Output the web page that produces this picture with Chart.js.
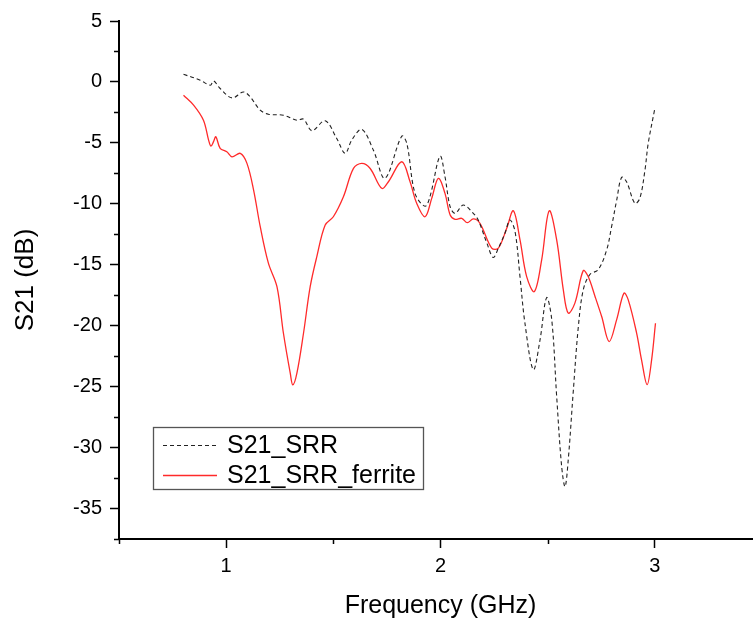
<!DOCTYPE html>
<html lang="en">
<head>
  <meta charset="UTF-8" />
  <title>S21 vs Frequency</title>
  <script src="https://cdn.jsdelivr.net/npm/chart.js"></script>
  <style>
    html, body { margin: 0; padding: 0; background: #fff; overflow: hidden; }
    #chart { display: block; }
  </style>
</head>
<body>
  <canvas id="chart" width="770" height="621"></canvas>

  <script>
    // data (GHz, dB)
    const freqSRR = [0.801, 0.879, 0.926, 0.941, 0.972, 1.027, 1.081, 1.112, 1.159, 1.197, 1.267, 1.330, 1.361, 1.400, 1.462, 1.516, 1.555, 1.586, 1.633, 1.687, 1.741, 1.819, 1.843, 1.881, 1.928, 1.951, 1.998, 2.021, 2.045, 2.068, 2.107, 2.153, 2.176, 2.216, 2.246, 2.270, 2.301, 2.324, 2.348, 2.371, 2.394, 2.433, 2.464, 2.495, 2.519, 2.542, 2.565, 2.581, 2.596, 2.619, 2.643, 2.666, 2.697, 2.736, 2.775, 2.798, 2.822, 2.845, 2.868, 2.907, 2.930, 2.954, 2.969, 3.000];
    const s21SRR = [0.63, 0.14, -0.27, 0.08, -0.54, -1.31, -0.82, -1.23, -2.32, -2.65, -2.73, -3.14, -3.05, -4.0, -3.19, -4.64, -5.86, -4.77, -3.9, -5.6, -7.9, -4.45, -5.05, -9.14, -10.2, -9.4, -6.09, -7.78, -10.24, -10.78, -10.1, -10.78, -11.33, -13.2, -14.4, -13.64, -12.4, -11.33, -12.3, -16.0, -19.8, -23.6, -21.2, -17.7, -19.5, -25.8, -31.5, -33.2, -31.0, -25.5, -20.1, -17.06, -15.8, -15.4, -13.8, -11.9, -9.7, -7.83, -8.19, -9.96, -9.55, -7.23, -5.05, -2.18];

    const freqFerrite = [0.801, 0.848, 0.894, 0.918, 0.929, 0.941, 0.952, 0.972, 1.003, 1.027, 1.066, 1.097, 1.128, 1.159, 1.197, 1.237, 1.267, 1.299, 1.311, 1.330, 1.361, 1.392, 1.423, 1.462, 1.500, 1.547, 1.594, 1.633, 1.672, 1.726, 1.757, 1.819, 1.858, 1.889, 1.928, 1.959, 1.990, 2.021, 2.045, 2.068, 2.099, 2.125, 2.153, 2.184, 2.239, 2.270, 2.309, 2.340, 2.371, 2.402, 2.438, 2.472, 2.507, 2.542, 2.573, 2.596, 2.627, 2.666, 2.689, 2.721, 2.752, 2.787, 2.822, 2.856, 2.876, 2.915, 2.938, 2.964, 2.985, 3.003];
    const s21Ferrite = [-1.09, -1.9, -3.14, -4.77, -5.27, -4.9, -4.5, -5.45, -5.73, -6.14, -5.86, -6.68, -8.87, -11.88, -14.87, -16.8, -20.6, -23.9, -24.86, -23.9, -20.6, -16.8, -14.33, -11.74, -11.06, -9.42, -7.09, -6.68, -7.1, -8.73, -8.19, -6.55, -8.19, -9.96, -11.06, -9.55, -7.91, -9.14, -10.92, -11.27, -11.19, -11.55, -11.24, -11.6, -13.64, -13.64, -12.0, -10.57, -12.96, -15.97, -17.2, -14.6, -10.57, -12.96, -17.06, -18.97, -18.15, -15.48, -15.97, -17.6, -19.25, -21.3, -19.5, -17.33, -17.88, -20.6, -22.8, -24.84, -22.8, -19.8];

    const seriesNames = ['S21_SRR', 'S21_SRR_ferrite'];
    const xLabels = [1, 2, 3];           // labelled x ticks
    const yLabelStep = 5;                // labelled y ticks every 5 dB

    const toPoints = (xs, ys) => xs.map((x, i) => ({ x: x, y: ys[i] }));
    const FONT = "'Liberation Sans', Arial, sans-serif";

    // short minor ticks (the major ones come from Chart.js itself)
    const minorTicks = {
      id: 'minorTicks',
      afterDraw(chart) {
        const ctx = chart.ctx;
        const xs = chart.scales.x, ys = chart.scales.y;
        ctx.save();
        ctx.strokeStyle = '#000';
        ctx.lineWidth = 1.5;
        ctx.beginPath();
        xs.ticks.forEach(t => {
          if (xLabels.includes(t.value)) return;
          const px = Math.round(xs.getPixelForValue(t.value)) + 0.5;
          ctx.moveTo(px, xs.top);
          ctx.lineTo(px, xs.top + 5);
        });
        ys.ticks.forEach(t => {
          if (t.value % yLabelStep === 0) return;
          const py = Math.round(ys.getPixelForValue(t.value)) + 0.5;
          ctx.moveTo(ys.right, py);
          ctx.lineTo(ys.right - 5, py);
        });
        ctx.stroke();
        ctx.restore();
      }
    };

    // boxed legend inside the plot, as in the original
    const boxLegend = {
      id: 'boxLegend',
      afterDraw(chart) {
        const ctx = chart.ctx;
        const bx = 153, by = 427, bw = 270, bh = 62;
        ctx.save();
        ctx.fillStyle = '#fff';
        ctx.fillRect(bx, by, bw, bh);
        ctx.strokeStyle = '#555';
        ctx.lineWidth = 1.3;
        ctx.strokeRect(bx + 0.5, by + 0.5, bw, bh);
        ctx.font = '25px ' + FONT;
        ctx.textBaseline = 'middle';
        ctx.fillStyle = '#000';
        chart.data.datasets.forEach((ds, i) => {
          const cy = by + 18 + i * 30;
          ctx.strokeStyle = ds.borderColor;
          ctx.lineWidth = ds.borderWidth;
          ctx.setLineDash(ds.borderDash || []);
          ctx.beginPath();
          ctx.moveTo(bx + 10, cy + 0.5);
          ctx.lineTo(bx + 64, cy + 0.5);
          ctx.stroke();
          ctx.setLineDash([]);
          ctx.fillText(ds.label, bx + 74, cy + 1);
        });
        ctx.restore();
      }
    };

    new Chart(document.getElementById('chart'), {
      type: 'line',
      data: {
        datasets: [
          {
            label: seriesNames[0],
            data: toPoints(freqSRR, s21SRR),
            borderColor: '#222',
            borderWidth: 1.1,
            borderDash: [4, 3],
            pointRadius: 0,
            tension: 0.35
          },
          {
            label: seriesNames[1],
            data: toPoints(freqFerrite, s21Ferrite),
            borderColor: '#ff2a2a',
            borderWidth: 1.3,
            pointRadius: 0,
            tension: 0.35
          }
        ]
      },
      options: {
        responsive: false,
        animation: false,
        layout: { padding: { left: 0, top: 21, right: 8, bottom: 0 } },
        plugins: { legend: { display: false }, tooltip: { enabled: false } },
        scales: {
          x: {
            type: 'linear',
            min: 0.5,
            max: 3.5,
            afterFit: s => { s.height = 82; },
            afterBuildTicks: s => {
              s.ticks = [];
              for (let v = 0.5; v <= 3.5 + 1e-9; v += 0.5) s.ticks.push({ value: v });
            },
            ticks: {
              autoSkip: false,
              maxRotation: 0,
              padding: 6,
              color: '#000',
              font: { size: 20, family: FONT },
              callback: v => xLabels.includes(v) ? String(v) : ''
            },
            grid: {
              drawOnChartArea: false,
              tickLength: 9,
              tickWidth: 1.5,
              tickColor: c => xLabels.includes(c.tick && c.tick.value) ? '#000' : 'rgba(0,0,0,0)'
            },
            border: { color: '#000', width: 2 },
            title: {
              display: true,
              text: 'Frequency (GHz)',
              color: '#000',
              font: { size: 25, family: FONT },
              padding: 0
            }
          },
          y: {
            min: -37.5,
            max: 5,
            afterFit: s => { s.width = 119; },
            ticks: {
              stepSize: 2.5,
              autoSkip: false,
              padding: 8,
              color: '#000',
              font: { size: 20, family: FONT },
              callback: v => v % yLabelStep === 0 ? String(v) : ''
            },
            grid: {
              drawOnChartArea: false,
              tickLength: 9,
              tickWidth: 1.5,
              tickColor: c => (c.tick && c.tick.value % yLabelStep === 0) ? '#000' : 'rgba(0,0,0,0)'
            },
            border: { color: '#000', width: 2 },
            title: {
              display: true,
              text: 'S21 (dB)',
              color: '#000',
              font: { size: 26, family: FONT },
              padding: { top: 10, bottom: 10 }
            }
          }
        }
      },
      plugins: [minorTicks, boxLegend]
    });
  </script>
</body>
</html>
